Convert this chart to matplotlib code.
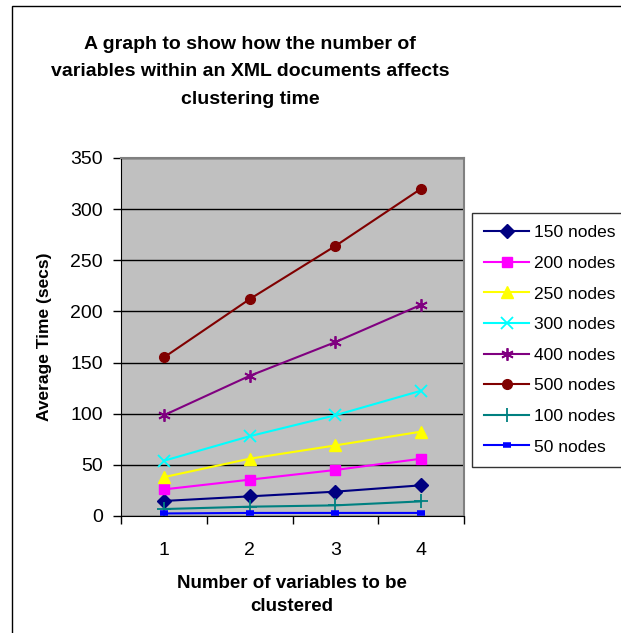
import matplotlib.pyplot as plt
from matplotlib.patches import Rectangle

plt.rcParams['font.family'] = ['Liberation Sans', 'DejaVu Sans']

# number of variables to be clustered
variables = [1, 2, 3, 4]

# average time (secs) per document size
t150 = [14.7, 19.2, 23.8, 30]
t200 = [26, 35.5, 45, 56]
t250 = [38, 56, 69, 82.5]
t300 = [54, 78, 98.5, 122.5]
t400 = [98.5, 137, 170, 206.5]
t500 = [155, 212, 264, 320]
t100 = [6.8, 9.1, 10.4, 14.3]
t50 = [2.5, 3, 3, 3]

series = [
    ('150 nodes', t150, '#000080', 'D'),
    ('200 nodes', t200, '#FF00FF', 's'),
    ('250 nodes', t250, '#FFFF00', '^'),
    ('300 nodes', t300, '#00FFFF', 'x'),
    ('400 nodes', t400, '#800080', (6, 2, 0)),
    ('500 nodes', t500, '#800000', 'o'),
    ('100 nodes', t100, '#008080', '+'),
    ('50 nodes', t50, '#0000FF', '_'),
]

fig = plt.figure(figsize=(6.21, 6.33), dpi=100)
ax = fig.add_axes([121/621, 1-516/633, (464-121)/621, (516-158)/633])
ax.set_facecolor('#C0C0C0')

for name, vals, col, mk in series:
    ms = 7
    mew = 1
    if mk == 'x' or mk == (6, 2, 0):
        ms = 9
        mew = 1.3
    if mk == '+':
        ms = 10
        mew = 1.3
    if mk == '_':
        ms = 6
        mew = 4
    if mk == '^':
        ms = 8
    ax.plot(variables, vals, color=col, marker=mk, markersize=ms,
            markeredgewidth=mew, markerfacecolor=col, markeredgecolor=col,
            linewidth=1.5, label=name)

ax.set_xlim(0.5, 4.5)
ax.set_ylim(0, 350)
ax.set_yticks(range(0, 351, 50))
ax.yaxis.grid(True, color='black', linewidth=1)
ax.set_axisbelow(True)

ax.set_xticks([0.5, 1.5, 2.5, 3.5, 4.5])
ax.set_xticklabels([])
ax.set_xticks(variables, minor=True)
ax.set_xticklabels([str(v) for v in variables], minor=True, fontsize=14)
ax.tick_params(axis='x', which='minor', length=0, pad=19)
ax.tick_params(axis='both', which='major', direction='out', length=6,
               width=1, labelsize=14)
ax.tick_params(axis='y', which='major', pad=7)

for side in ['top', 'right']:
    ax.spines[side].set_color('#808080')
    ax.spines[side].set_linewidth(1.5)
ax.spines['left'].set_color('black')
ax.spines['bottom'].set_color('black')

ax.set_ylabel('Average Time (secs)', fontsize=12.5, fontweight='bold',
              labelpad=13)

fig.text(292/621, 1-595/633, 'Number of variables to be\nclustered',
         ha='center', va='center', fontsize=13.5, fontweight='bold',
         linespacing=1.45)
fig.text(250/621, 1-72/633,
         'A graph to show how the number of\nvariables within an XML documents affects\nclustering time',
         ha='center', va='center', fontsize=14, fontweight='bold',
         linespacing=1.8)

leg = fig.legend(loc='upper left', bbox_to_anchor=(472/621, 1-213/633),
                 fontsize=12.5, frameon=True, fancybox=False, handlelength=2.6,
                 labelspacing=0.89, borderpad=0.7, handletextpad=0.3,
                 borderaxespad=0)
leg.get_frame().set_edgecolor('black')
leg.get_frame().set_linewidth(1)

fig.patches.append(Rectangle((12/621, -0.1), 1.2, 1 - 6/633 + 0.1,
                             transform=fig.transFigure, fill=False,
                             edgecolor='black', linewidth=1))

fig.savefig('out.png', dpi=100)
